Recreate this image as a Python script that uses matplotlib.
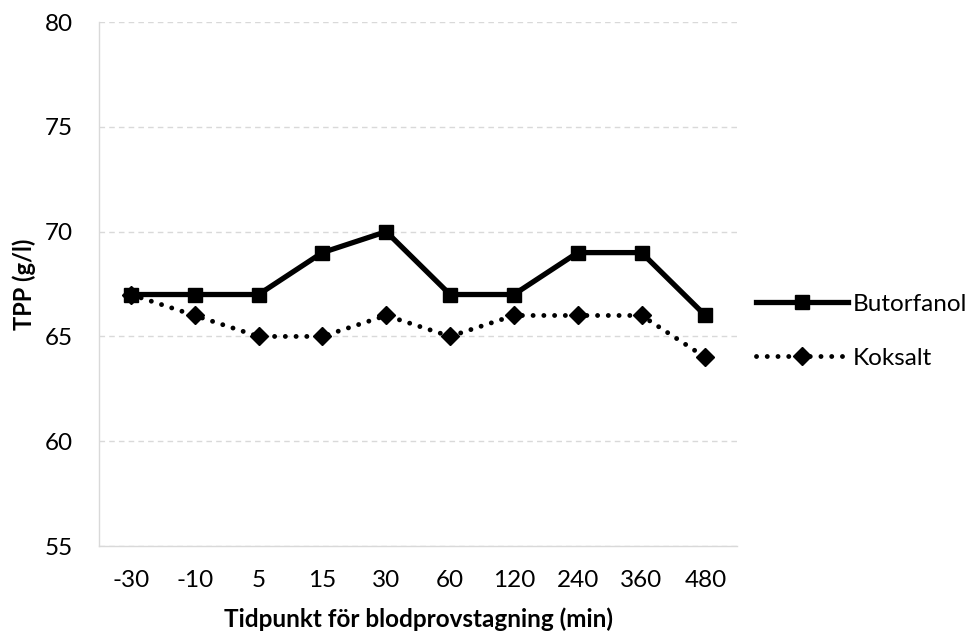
import matplotlib.pyplot as plt

plt.rcParams['font.family'] = ['Lato', 'DejaVu Sans']

timepoints = ['-30', '-10', '5', '15', '30', '60', '120', '240', '360', '480']
butorfanol = [67, 67, 67, 69, 70, 67, 67, 69, 69, 66]
koksalt = [67, 66, 65, 65, 66, 65, 66, 66, 66, 64]

fig = plt.figure(figsize=(9.76, 6.39), dpi=100)
ax = fig.add_axes([0.1014, 0.1455, 0.654, 0.82])

x = range(len(timepoints))
ax.plot(x, butorfanol, color='black', lw=3.8, marker='s', markersize=10.5,
        solid_joinstyle='miter', label='Butorfanol')
ax.plot(x, koksalt, color='black', lw=3.5, linestyle=(0, (0.01, 2.2)),
        dash_capstyle='round', marker='D', markersize=9.5, label='Koksalt')

ax.set_xlim(-0.5, len(timepoints) - 0.5)
ax.set_ylim(55, 80)
ax.set_yticks(range(55, 81, 5))
ax.set_xticks(list(x))
ax.set_xticklabels(timepoints)
ax.yaxis.grid(True, color='#d9d9d9', linestyle=(0, (4, 3)), lw=1)
ax.set_axisbelow(True)
ax.tick_params(axis='y', length=0, labelsize=17.5, pad=19)
ax.tick_params(axis='x', length=0, labelsize=17.5, pad=17)
for side in ['top', 'right']:
    ax.spines[side].set_visible(False)
for side in ['left', 'bottom']:
    ax.spines[side].set_color('#d9d9d9')
    ax.spines[side].set_linewidth(1)

ax.set_xlabel('Tidpunkt för blodprovstagning (min)', fontsize=17.5,
              fontweight='bold', labelpad=12)
ax.set_ylabel('TPP (g/l)', fontsize=17, fontweight='bold', labelpad=6)

ax.legend(loc='center left', bbox_to_anchor=(0.995, 0.41), frameon=False,
          fontsize=17.5, handlelength=3.8, handletextpad=0.2,
          labelspacing=1.35)

fig.savefig('out.png', dpi=100)
